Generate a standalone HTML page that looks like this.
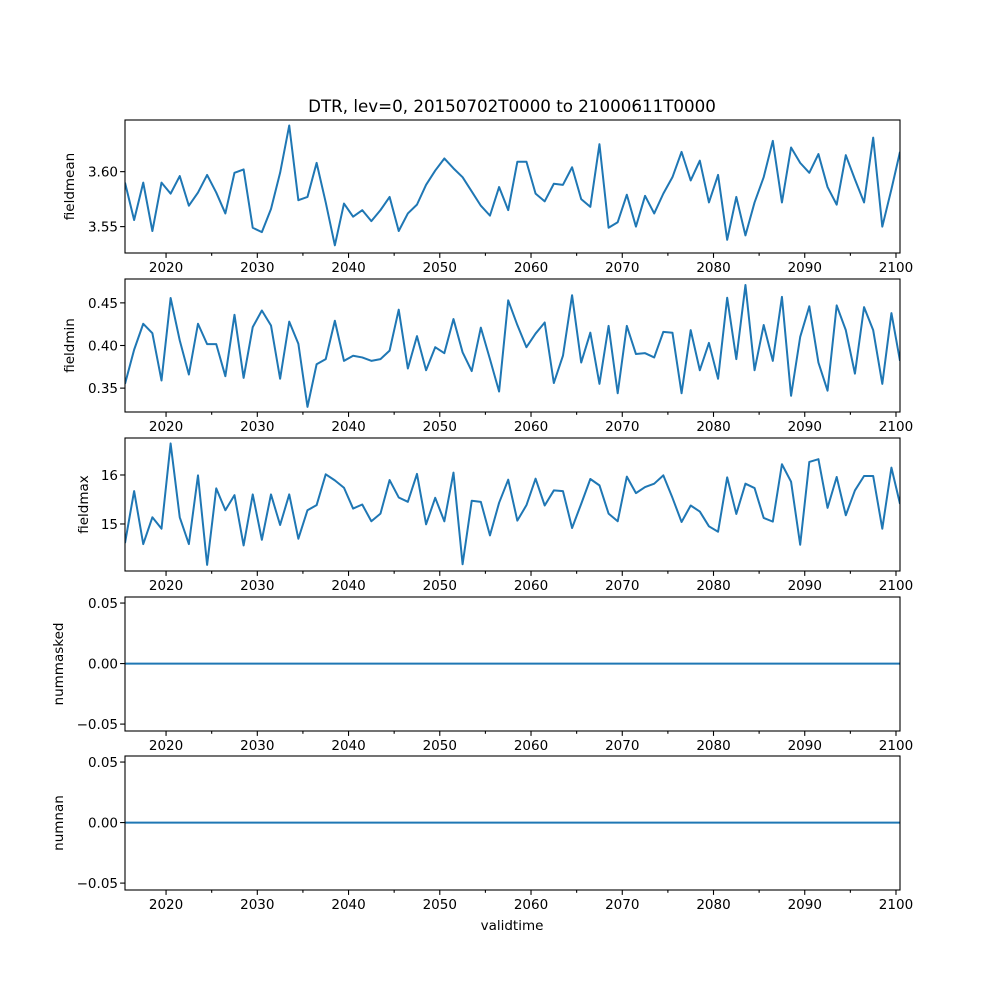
<!DOCTYPE html>
<html><head><meta charset="utf-8"><style>
html,body{margin:0;padding:0;background:#fff;}
svg{display:block;font-family:"DejaVu Sans","Liberation Sans",sans-serif;}
</style></head><body>
<svg id="fig" width="1000" height="1000" viewBox="0 0 1000 1000" xmlns="http://www.w3.org/2000/svg">
<rect width="1000" height="1000" fill="#fff"/>
<text x="512" y="112" text-anchor="middle" font-size="16.7">DTR, lev=0, 20150702T0000 to 21000611T0000</text>
<text x="512" y="930" text-anchor="middle" font-size="13.5">validtime</text>
</svg>
<script>
const fieldmean = [3.590,3.556,3.590,3.546,3.590,3.580,3.596,3.569,3.581,3.597,3.581,3.562,3.599,3.602,3.549,3.545,3.566,3.599,3.642,3.574,3.577,3.608,3.572,3.533,3.571,3.559,3.565,3.555,3.565,3.577,3.546,3.562,3.570,3.588,3.601,3.612,3.603,3.595,3.582,3.569,3.560,3.586,3.565,3.609,3.609,3.580,3.573,3.589,3.588,3.604,3.575,3.568,3.625,3.549,3.554,3.579,3.550,3.578,3.562,3.580,3.595,3.618,3.592,3.610,3.572,3.597,3.538,3.577,3.542,3.572,3.595,3.628,3.572,3.622,3.608,3.599,3.616,3.586,3.570,3.615,3.593,3.572,3.631,3.550,3.584,3.618];
const fieldmin = [0.355,0.395,0.4255,0.4145,0.359,0.4557,0.406,0.366,0.4255,0.4016,0.4016,0.364,0.436,0.362,0.4216,0.441,0.4235,0.361,0.428,0.402,0.328,0.378,0.384,0.429,0.382,0.388,0.386,0.382,0.384,0.394,0.442,0.373,0.411,0.371,0.398,0.391,0.431,0.392,0.370,0.421,0.384,0.346,0.453,0.424,0.398,0.414,0.427,0.356,0.388,0.459,0.380,0.415,0.355,0.423,0.344,0.423,0.390,0.391,0.386,0.416,0.415,0.344,0.418,0.371,0.403,0.361,0.456,0.384,0.471,0.371,0.424,0.382,0.457,0.341,0.410,0.446,0.380,0.347,0.447,0.418,0.367,0.445,0.418,0.355,0.438,0.382];
const fieldmax = [14.610,15.671,14.589,15.137,14.904,16.644,15.137,14.589,15.993,14.164,15.726,15.281,15.589,14.562,15.603,14.678,15.603,14.979,15.603,14.699,15.281,15.384,16.014,15.890,15.740,15.315,15.397,15.055,15.212,15.897,15.541,15.452,16.021,14.993,15.534,15.055,16.048,14.178,15.473,15.452,14.767,15.432,15.904,15.068,15.384,15.925,15.377,15.685,15.671,14.918,15.411,15.918,15.788,15.212,15.055,15.966,15.630,15.753,15.822,15.993,15.534,15.041,15.377,15.253,14.952,14.842,15.952,15.205,15.822,15.733,15.123,15.048,16.219,15.863,14.575,16.267,16.322,15.329,15.959,15.178,15.685,15.979,15.979,14.904,16.151,15.411];
const nummasked = new Array(86).fill(0);
const numnan = new Array(86).fill(0);
const xTickLabels = ["2020","2030","2040","2050","2060","2070","2080","2090","2100"];
const t0 = 2015.5, t1 = 2100.44;
const years = [];
for (let i = 0; i < 85; i++) years.push(t0 + i);
years.push(t1);

const NS = "http://www.w3.org/2000/svg";
const svg = document.getElementById('fig');
const L = 125, R = 900;
function xs(t){ return L + (t - t0) / (t1 - t0) * (R - L); }
function mk(tag, attrs){ const e = document.createElementNS(NS, tag); for (const k in attrs) e.setAttribute(k, attrs[k]); return e; }
const fmt2 = v => (v < 0 ? '\u2212' : '') + Math.abs(v).toFixed(2);

const panels = [
 {name:'fieldmean', data:fieldmean, top:120, bot:253, lo:3.526, hi:3.647, ticks:[3.55,3.60], fmt:fmt2, lx:74},
 {name:'fieldmin', data:fieldmin, top:279, bot:412, lo:0.322, hi:0.478, ticks:[0.35,0.40,0.45], fmt:fmt2, lx:74},
 {name:'fieldmax', data:fieldmax, top:438, bot:571, lo:14.04, hi:16.755, ticks:[15,16], fmt:v=>String(v), lx:88},
 {name:'nummasked', data:nummasked, top:597, bot:731, lo:-0.0557, hi:0.055, ticks:[-0.05,0,0.05], fmt:fmt2, lx:63},
 {name:'numnan', data:numnan, top:756, bot:890, lo:-0.0557, hi:0.055, ticks:[-0.05,0,0.05], fmt:fmt2, lx:63}
];

panels.forEach(p => {
  const g = mk('g', {});
  
  
  svg.appendChild(g);
  const ys = v => p.bot - (v - p.lo) / (p.hi - p.lo) * (p.bot - p.top);
  const clipId = 'clip-' + p.name;
  const cp = mk('clipPath', {id: clipId});
  cp.appendChild(mk('rect', {x:L, y:p.top, width:R-L, height:p.bot-p.top}));
  g.appendChild(cp);
  let d = '';
  p.data.forEach((v, i) => { d += (i ? 'L' : 'M') + xs(years[i]).toFixed(2) + ',' + ys(v).toFixed(2); });
  const line = mk('path', {d:d, fill:'none', stroke:'#1f77b4', 'stroke-width':2, 'stroke-linejoin':'round', 'clip-path':'url(#'+clipId+')'});
  
  
  g.appendChild(line);
  const frame = mk('rect', {x:L, y:p.top, width:R-L, height:p.bot-p.top, fill:'none', stroke:'#000', 'stroke-width':1.1});
  
  
  g.appendChild(frame);
  p.ticks.forEach(t => {
    const y = ys(t);
    g.appendChild(mk('line', {x1:L-4.9, x2:L, y1:y, y2:y, stroke:'#000', 'stroke-width':1.1}));
    const tx = mk('text', {x:L-7, y:y+5, 'text-anchor':'end', 'font-size':13.5});
    tx.textContent = p.fmt(t);
    
    
    g.appendChild(tx);
  });
  for (let yr = 2020; yr <= 2100; yr += 5) {
    const x = xs(yr);
    const major = yr % 10 === 0;
    g.appendChild(mk('line', {x1:x, x2:x, y1:p.bot, y2:p.bot + (major ? 4.9 : 2.8), stroke:'#000', 'stroke-width':1.1}));
  }
  xTickLabels.forEach(lbl => {
    const tx = mk('text', {x:xs(+lbl), y:p.bot + 19, 'text-anchor':'middle', 'font-size':13.5});
    tx.textContent = lbl;
    
    
    g.appendChild(tx);
  });
  const yl = mk('text', {x:p.lx, y:(p.top+p.bot)/2, 'text-anchor':'middle', 'font-size':13.5, transform:'rotate(-90 '+p.lx+' '+((p.top+p.bot)/2)+')'});
  yl.textContent = p.name;
  
  
  g.appendChild(yl);
});
</script>
</body></html>
